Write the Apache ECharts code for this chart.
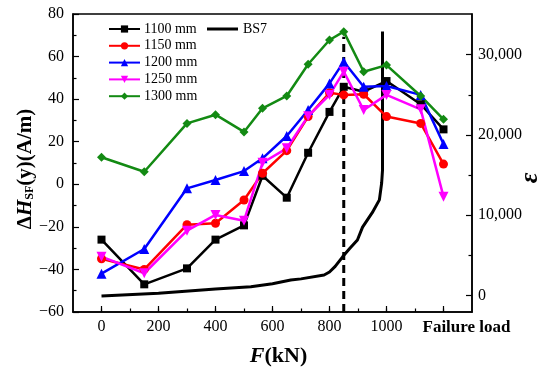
<!DOCTYPE html>
<html>
<head>
<meta charset="utf-8">
<script src="https://cdn.jsdelivr.net/npm/echarts@6/dist/echarts.min.js"></script>
<style>html,body{margin:0;padding:0;background:#fff}#c{width:550px;height:370px}</style>
</head>
<body>
<div id="c"></div>
<script>
// ---- data ----
const loadF = [0, 150, 300, 400, 500, 565, 650, 725, 800, 850, 920, 1000, 1120, 1200];
const s1100 = [-26, -47, -39.5, -26, -19.3, 4, -6.3, 14.8, 34, 45.8, 43.5, 48.5, 37.6, 25.8];
const s1150 = [-35, -40, -19, -18.3, -7.4, 5.2, 15.8, 31.8, 43, 42, 42.3, 31.8, 28.6, 9.5];
const s1200 = [-42, -30.4, -1.9, 2, 6.2, 12.2, 22.7, 34.9, 47.4, 57.6, 45.8, 46.2, 42, 18.9];
const s1250 = [-34, -41.8, -21.8, -14.4, -17.1, 10.1, 16.9, 32, 42, 52.9, 34.9, 42, 35.2, -5.8];
const s1300 = [12.7, 5.9, 28.6, 32.7, 24.6, 35.7, 41.5, 56.4, 67.8, 71.7, 52.9, 56, 41.5, 30.5];
const bs7F = [0, 200, 400, 524, 600, 664, 700, 781, 800, 820, 846, 870, 898, 916, 950, 975, 983, 986, 986];
const bs7Strain = [-100, 250, 800, 1070, 1450, 1900, 2050, 2530, 2900, 3600, 4800, 5800, 6900, 8500, 10300, 11900, 14000, 15600, 32900];
const dashF = [850, 850];
const dashY = [-60, 69.3];
const xTickValues = [0, 200, 400, 600, 800, 1000, 1200];
const xTickLabels = ['0', '200', '400', '600', '800', '1000', 'Failure load'];
const xMinorTicks = [0, 100, 200, 300, 400, 500, 600, 700, 800, 900, 1000, 1100, 1200];
const rTickValues = [0, 10000, 20000, 30000];
const rMinorTicks = [5000, 15000, 25000];
const seriesNames = ['1100 mm', '1150 mm', '1200 mm', '1250 mm', '1300 mm'];
const seriesValues = [s1100, s1150, s1200, s1250, s1300];

const FONT = '"Liberation Serif", "Times New Roman", serif';
const colors = ['#000000', '#ff0000', '#0000ff', '#ff00ff', '#138a13'];
const symbols = ['rect', 'circle', 'triangle', 'path://M0,0L2,0L1,1.732Z', 'diamond'];
const sizes = [8, 9, 10, 10, 9];

const zip = (a, b) => a.map((v, i) => [v, b[i]]);

const series = seriesNames.map((n, k) => ({
  name: n, type: 'line', xAxisIndex: 0, yAxisIndex: 0,
  data: zip(loadF, seriesValues[k]),
  symbol: symbols[k], symbolSize: sizes[k], showSymbol: true,
  lineStyle: {color: colors[k], width: 2.5},
  itemStyle: {color: colors[k]},
  z: 5
}));
series.push({
  name: 'BS7', type: 'line', xAxisIndex: 0, yAxisIndex: 1,
  data: zip(bs7F, bs7Strain), showSymbol: false, symbol: 'none',
  lineStyle: {color: '#000', width: 3}, itemStyle: {color: '#000'}, z: 4
});
series.push({
  name: 'dash', type: 'line', xAxisIndex: 0, yAxisIndex: 0,
  data: zip(dashF, dashY), showSymbol: false, symbol: 'none',
  lineStyle: {color: '#000', width: 3, type: [8, 5]}, z: 3
});

const chart = echarts.init(document.getElementById('c'), null, {renderer: 'canvas'});
chart.setOption({
  animation: false,
  backgroundColor: '#fff',
  grid: {left: 73, right: 78, top: 14, bottom: 58, show: true, borderColor: '#000', borderWidth: 1.5,
    backgroundColor: 'transparent', containLabel: false, outerBoundsMode: 'none'},
  legend: [{
    data: seriesNames, orient: 'vertical', left: 103, top: 17,
    itemWidth: 31, itemHeight: 9, itemGap: 2.8,
    textStyle: {fontFamily: FONT, fontSize: 14, color: '#000', padding: [0, 0, 0, -1]}
  }, {
    data: [{name: 'BS7', icon: 'rect'}], orient: 'vertical', left: 202, top: 17,
    itemWidth: 31, itemHeight: 3,
    textStyle: {fontFamily: FONT, fontSize: 14, color: '#000'}
  }],
  xAxis: [{
    type: 'value', min: -100, max: 1300, position: 'bottom',
    axisLine: {show: true, onZero: false, lineStyle: {color: '#000', width: 1.5}},
    axisTick: {show: true, inside: true, length: 3.5, customValues: xMinorTicks, lineStyle: {color: '#000', width: 1.2}},
    axisLabel: {
      customValues: xTickValues, margin: 7, color: '#000', fontFamily: FONT, fontSize: 16,
      formatter: v => {
        const i = xTickValues.indexOf(v);
        if (i === xTickValues.length - 1) return '{fl|' + xTickLabels[i] + '}';
        return i >= 0 ? xTickLabels[i] : '';
      },
      rich: {fl: {fontFamily: FONT, fontSize: 17, fontWeight: 'bold', color: '#000', padding: [0, 0, 0, 46]}}
    },
    splitLine: {show: false},
    name: '{i|F}{b|(kN)}', nameLocation: 'middle', nameGap: 33, nameMoveOverlap: false,
    nameTextStyle: {
      padding: [0, 0, 0, 12],
      rich: {
        i: {fontFamily: FONT, fontSize: 22, fontWeight: 'bold', fontStyle: 'italic', color: '#000'},
        b: {fontFamily: FONT, fontSize: 22, fontWeight: 'bold', color: '#000'}
      }
    }
  }, {
    type: 'value', min: -100, max: 1300, position: 'bottom',
    axisLine: {show: false, onZero: false},
    axisTick: {show: true, inside: true, length: 6, customValues: xTickValues, lineStyle: {color: '#000', width: 1.2}},
    axisLabel: {show: false}, splitLine: {show: false}
  }],
  yAxis: [{
    type: 'value', min: -60, max: 80, interval: 20, position: 'left',
    axisLine: {show: true, onZero: false, lineStyle: {color: '#000', width: 1.5}},
    axisTick: {show: true, inside: true, length: 6, lineStyle: {color: '#000', width: 1.2}},
    minorTick: {show: true, splitNumber: 2, length: 3.5, lineStyle: {color: '#000', width: 1.2}},
    axisLabel: {margin: 9, color: '#000', fontFamily: FONT, fontSize: 16,
      formatter: v => (v < 0 ? '\u2212' + Math.abs(v) : String(v))},
    splitLine: {show: false},
    name: '{d|\u0394}{i|H}{s|SF}{b|(y)(A/m)}', nameLocation: 'middle', nameGap: 37, nameRotate: 90,
    nameMoveOverlap: false,
    nameTextStyle: {
      padding: [0, 12, 0, 0],
      rich: {
        d: {fontFamily: FONT, fontSize: 21, fontWeight: 'bold', color: '#000'},
        i: {fontFamily: FONT, fontSize: 21, fontWeight: 'bold', fontStyle: 'italic', color: '#000'},
        s: {fontFamily: FONT, fontSize: 12, fontWeight: 'bold', color: '#000', verticalAlign: 'bottom', padding: [8, 0, 0, 0]},
        b: {fontFamily: FONT, fontSize: 21, fontWeight: 'bold', color: '#000'}
      }
    }
  }, {
    type: 'value', min: -2080, max: 35070, position: 'right',
    axisLine: {show: true, onZero: false, lineStyle: {color: '#000', width: 1.5}},
    axisTick: {show: true, inside: true, length: 6, customValues: rTickValues, lineStyle: {color: '#000', width: 1.2}},
    axisLabel: {customValues: rTickValues, margin: 6, color: '#000', fontFamily: FONT, fontSize: 16,
      formatter: v => v.toLocaleString('en-US')},
    splitLine: {show: false},
    name: '\u03b5', nameLocation: 'middle', nameGap: 45, nameRotate: 90, nameMoveOverlap: false,
    nameTextStyle: {fontFamily: FONT, fontSize: 26, fontWeight: 'bold', fontStyle: 'italic', color: '#000', padding: [0, 30, 0, 0]}
  }, {
    type: 'value', min: -2080, max: 35070, position: 'right',
    axisLine: {show: false, onZero: false},
    axisTick: {show: true, inside: true, length: 3.5, customValues: rMinorTicks, lineStyle: {color: '#000', width: 1.2}},
    axisLabel: {show: false}, splitLine: {show: false}
  }],
  series: series
});
</script>
</body>
</html>
